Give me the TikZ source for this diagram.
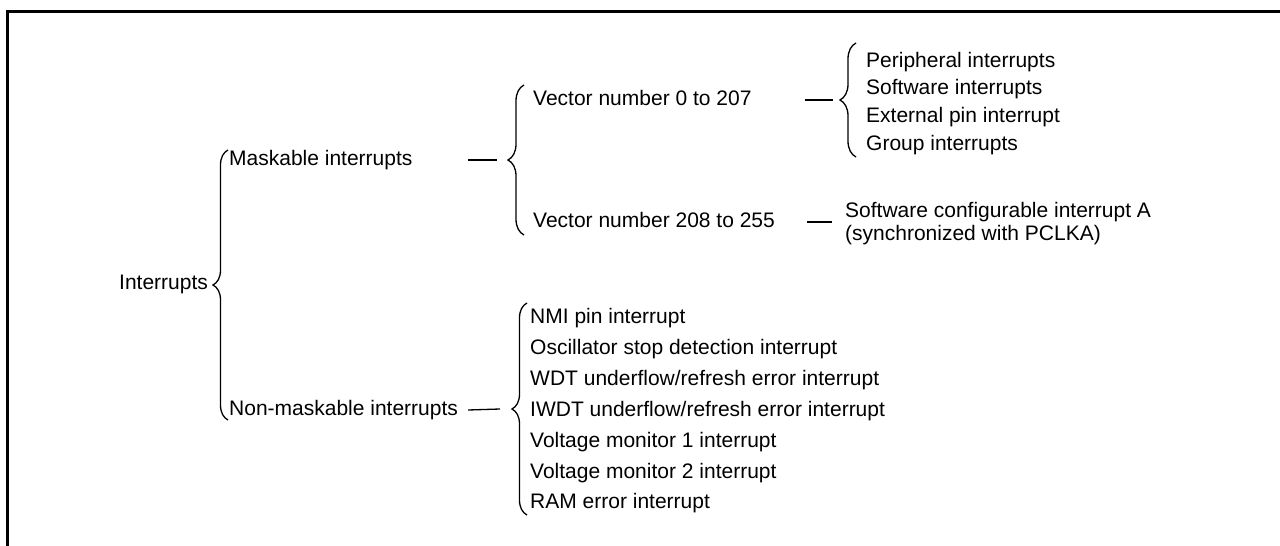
\documentclass[tikz,border=0pt]{standalone}
\usepackage{fontspec}
\setmainfont{Liberation Sans}
\usetikzlibrary{positioning,decorations.pathreplacing}

\begin{document}
\begin{tikzpicture}[x=1pt, y=-1pt,
  item/.style={anchor=west, inner sep=0pt, text height=15pt, text depth=4pt,
    font=\fontsize{21}{25}\selectfont},
  curly/.style={line width=1.3pt, decorate, decoration={brace, amplitude=#1}},
  link/.style={line width=1.3pt},
]
  \useasboundingbox (0,0) rectangle (1280,546);
  \draw[line width=3pt] (7,546) -- (7,11) -- (1280,11);

  % first level
  \node[item] (intr) at (119,284) {Interrupts};
  \node[item] (mask) at (229,160) {Maskable interrupts};
  \node[item] (nonmask) at (229,410) {Non-maskable interrupts};
  \coordinate (tip1) at (213,285);
  \draw[curly=15pt] (228,420) -- (228,150);

  % maskable side
  \coordinate (tip2) at (508,160);
  \draw[curly=16pt] (524,235) -- (524,85);
  \draw[link] ([xshift=55pt]mask.east) -- ([xshift=-11pt]tip2);
  \node[item] (veca) at (533,100) {Vector number 0 to 207};
  \node[item] (vecb) at (533,222) {Vector number 208 to 255};

  \coordinate (tip3) at (840,100);
  \draw[curly=16pt] (856,157) -- (856,43);
  \draw[link] ([xshift=53pt]veca.east) -- ([xshift=-7pt]tip3);
  \node[item] (periph) at (866,62) {Peripheral interrupts};
  \node[item, below=8pt of periph.south west, anchor=north west] (softw) {Software interrupts};
  \node[item, below=8.5pt of softw.south west, anchor=north west] (extpin) {External pin interrupt};
  \node[item, below=8.5pt of extpin.south west, anchor=north west] (group) {Group interrupts};

  \node[item] (swcfg) at (845,212) {Software configurable interrupt A};
  \node[item, below=4pt of swcfg.south west, anchor=north west] (swsync) {(synchronized with PCLKA)};
  \draw[link] ([xshift=32pt]vecb.east) -- ([xshift=-13pt]vecb.east -| swcfg.west);

  % non-maskable side
  \coordinate (tip4) at (512,409);
  \draw[curly=15pt] (527,515) -- (527,303);
  \draw[link] ([xshift=10pt]nonmask.east) -- ([xshift=-12pt]tip4);
  \node[item] (nmi) at (530,318) {NMI pin interrupt};
  \node[item, below=11.5pt of nmi.south west, anchor=north west] (osc) {Oscillator stop detection interrupt};
  \node[item, below=11.5pt of osc.south west, anchor=north west] (wdt) {WDT underflow/refresh error interrupt};
  \node[item, below=11.5pt of wdt.south west, anchor=north west] (iwdt) {IWDT underflow/refresh error interrupt};
  \node[item, below=11.5pt of iwdt.south west, anchor=north west] (lvd1) {Voltage monitor 1 interrupt};
  \node[item, below=11.5pt of lvd1.south west, anchor=north west] (lvd2) {Voltage monitor 2 interrupt};
  \node[item, below=11.5pt of lvd2.south west, anchor=north west] (ramerr) {RAM error interrupt};
\end{tikzpicture}
\end{document}
